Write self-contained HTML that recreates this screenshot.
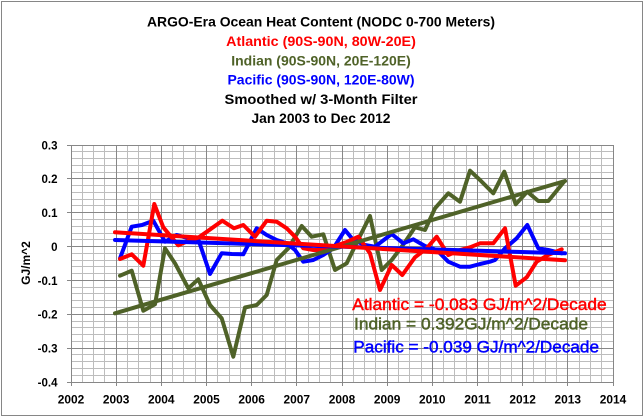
<!DOCTYPE html>
<html><head><meta charset="utf-8"><style>
html,body{margin:0;padding:0;background:#fff;}
svg{display:block;}
text{font-family:"Liberation Sans",Arial,sans-serif;}
</style></head><body>
<svg width="644" height="418" viewBox="0 0 644 418" xmlns="http://www.w3.org/2000/svg">
<rect x="0" y="0" width="644" height="418" fill="#fff"/>
<rect x="1.5" y="1.5" width="641" height="414" fill="none" stroke="#868686" stroke-width="1"/>
<!-- minor grid -->
<path fill="none" stroke="#bdbdbd" stroke-width="1" d="
M82.5,145V382 M93.5,145V382 M104.5,145V382 M127.5,145V382 M138.5,145V382 M150.5,145V382 M172.5,145V382 M183.5,145V382 M195.5,145V382 M217.5,145V382 M229.5,145V382 M240.5,145V382 M262.5,145V382 M274.5,145V382 M285.5,145V382 M308.5,145V382 M319.5,145V382 M330.5,145V382 M353.5,145V382 M364.5,145V382 M375.5,145V382 M398.5,145V382 M409.5,145V382 M421.5,145V382 M443.5,145V382 M454.5,145V382 M466.5,145V382 M488.5,145V382 M500.5,145V382 M511.5,145V382 M533.5,145V382 M545.5,145V382 M556.5,145V382 M579.5,145V382 M590.5,145V382 M601.5,145V382
M71,151.5H613 M71,158.5H613 M71,165.5H613 M71,172.5H613 M71,185.5H613 M71,192.5H613 M71,199.5H613 M71,205.5H613 M71,219.5H613 M71,226.5H613 M71,233.5H613 M71,239.5H613 M71,253.5H613 M71,260.5H613 M71,266.5H613 M71,273.5H613 M71,287.5H613 M71,293.5H613 M71,300.5H613 M71,307.5H613 M71,321.5H613 M71,327.5H613 M71,334.5H613 M71,341.5H613 M71,354.5H613 M71,361.5H613 M71,368.5H613 M71,375.5H613"/>
<!-- major grid -->
<path fill="none" stroke="#878787" stroke-width="1" d="
M71.5,145V386 M116.5,145V386 M161.5,145V386 M206.5,145V386 M251.5,145V386 M296.5,145V386 M342.5,145V386 M387.5,145V386 M432.5,145V386 M477.5,145V386 M522.5,145V386 M567.5,145V386 M613.5,145V386
M67,145.5H613 M67,178.5H613 M67,212.5H613 M67,246.5H613 M67,280.5H613 M67,314.5H613 M67,348.5H613 M67,382.5H613"/>

<!-- data series -->
<g fill="none" stroke-width="4" stroke-linejoin="round" stroke-linecap="round">
<polyline stroke="#4f6228" points="120,275.7 131.7,270.7 143.3,310.7 155,304.3 165,248.3 175,263.3 188.3,288.3 198.3,279.3 210,305 221.7,318.3 233.3,356.7 245,307.5 256.7,305 266.7,295 276.7,260 288.3,248.3 301.7,226 311.7,236.7 323.3,234.3 335,270 346.7,263.3 358,240 370,216 381.7,270 391.7,260 403,245 415,227.3 425,230 435,208.3 448.3,193.3 460,201.7 470,170.7 480,180 493.3,193.3 504.3,171.7 515.7,204.3 527.3,191.7 538.3,201 548.3,201 564,181.7"/>
<polyline stroke="#0000ff" points="120,258.3 131.7,226.7 142,225 153.3,220.7 165,241.7 176.7,235 188.3,238.3 198.3,239.3 210,274 221.7,253.3 231.7,254 243.3,254.3 256.7,228.3 266.7,235 276.7,240 286.7,243.3 295,250 303.3,261.7 313.3,260 323.3,255 333.3,248.3 345,230 353.3,240 365,245 375,246.7 391.7,234 403.3,243.3 413.3,239.3 425,246 436.7,250 448.3,261.7 460,266.7 470,266.7 480,264 490,261.7 495,260 505,248.3 516.7,238.3 527.3,225 538.3,248.3 548.3,250 561.7,253.3"/>
<polyline stroke="#ff0000" points="120,259 131.7,254.3 143.3,265.7 154.3,204 163.3,227.3 171,236.7 178.3,245.3 190,240 198.3,237.7 208.3,230.7 222.3,220.7 234,228.3 243.3,225 255,236.7 266.7,220.7 276.7,221.7 286.7,228.3 295,236.7 303.3,248.3 313.3,250 323.3,250 335,246 346.7,242 358.3,236.7 370,253.3 380,290 391.7,265 402.3,275 415,257.3 426.7,248.3 436.7,236.7 448.3,255 460,250 470,247.3 480,243.3 493.3,243.3 505,228.3 515.7,285.7 526.7,277.3 536.7,261.7 548,255 561.7,249.3"/>
<line stroke="#4f6228" x1="115" y1="313.3" x2="565" y2="181"/>
<line stroke="#0000ff" x1="115" y1="240" x2="565" y2="253.3"/>
<line stroke="#ff0000" x1="115" y1="232.3" x2="565" y2="260.3"/>
</g>

<!-- titles -->
<g font-weight="bold" font-size="14" text-anchor="middle">
<text x="321" y="26.3" fill="#000" textLength="348" lengthAdjust="spacingAndGlyphs">ARGO-Era Ocean Heat Content (NODC 0-700 Meters)</text>
<text x="321" y="45.8" fill="#ff0000" textLength="189.7" lengthAdjust="spacingAndGlyphs">Atlantic (90S-90N, 80W-20E)</text>
<text x="321" y="65.3" fill="#4f6228" textLength="179.5" lengthAdjust="spacingAndGlyphs">Indian (90S-90N, 20E-120E)</text>
<text x="321" y="84.6" fill="#0000ff" textLength="187" lengthAdjust="spacingAndGlyphs">Pacific (90S-90N, 120E-80W)</text>
<text x="321" y="103.8" fill="#000" textLength="193" lengthAdjust="spacingAndGlyphs">Smoothed w/ 3-Month Filter</text>
<text x="321" y="123" fill="#000" textLength="139" lengthAdjust="spacingAndGlyphs">Jan 2003 to Dec 2012</text>
</g>

<!-- annotations -->
<g font-size="16.5" stroke-width="0.45">
<text x="352.3" y="310" fill="#ff0000" stroke="#ff0000" textLength="254.4" lengthAdjust="spacingAndGlyphs">Atlantic = -0.083 GJ/m^2/Decade</text>
<text x="354" y="329.5" fill="#4f6228" stroke="#4f6228" textLength="234" lengthAdjust="spacingAndGlyphs">Indian = 0.392GJ/m^2/Decade</text>
<text x="353.3" y="352.7" fill="#0000ff" stroke="#0000ff" textLength="245.7" lengthAdjust="spacingAndGlyphs">Pacific = -0.039 GJ/m^2/Decade</text>
</g>

<!-- y tick labels -->
<g font-weight="bold" font-size="11.5" text-anchor="end" fill="#000">
<text x="57.5" y="149.5">0.3</text>
<text x="57.5" y="183">0.2</text>
<text x="57.5" y="217">0.1</text>
<text x="57.5" y="250.8">0</text>
<text x="57.5" y="284.8">-0.1</text>
<text x="57.5" y="318.6">-0.2</text>
<text x="57.5" y="352.5">-0.3</text>
<text x="57.5" y="386.3">-0.4</text>
</g>
<!-- x tick labels -->
<g font-weight="bold" font-size="11.5" text-anchor="middle" fill="#000">
<text x="71" y="403.3" textLength="26.5" lengthAdjust="spacingAndGlyphs">2002</text>
<text x="116.2" y="403.3" textLength="26.5" lengthAdjust="spacingAndGlyphs">2003</text>
<text x="161.3" y="403.3" textLength="26.5" lengthAdjust="spacingAndGlyphs">2004</text>
<text x="206.5" y="403.3" textLength="26.5" lengthAdjust="spacingAndGlyphs">2005</text>
<text x="251.7" y="403.3" textLength="26.5" lengthAdjust="spacingAndGlyphs">2006</text>
<text x="296.8" y="403.3" textLength="26.5" lengthAdjust="spacingAndGlyphs">2007</text>
<text x="342" y="403.3" textLength="26.5" lengthAdjust="spacingAndGlyphs">2008</text>
<text x="387.2" y="403.3" textLength="26.5" lengthAdjust="spacingAndGlyphs">2009</text>
<text x="432.3" y="403.3" textLength="26.5" lengthAdjust="spacingAndGlyphs">2010</text>
<text x="477.5" y="403.3" textLength="26.5" lengthAdjust="spacingAndGlyphs">2011</text>
<text x="522.7" y="403.3" textLength="26.5" lengthAdjust="spacingAndGlyphs">2012</text>
<text x="567.8" y="403.3" textLength="26.5" lengthAdjust="spacingAndGlyphs">2013</text>
<text x="613" y="403.3" textLength="26.5" lengthAdjust="spacingAndGlyphs">2014</text>
</g>
<!-- y axis title -->
<text transform="translate(30,263) rotate(-90)" text-anchor="middle" font-weight="bold" font-size="12" fill="#000">GJ/m^2</text>
</svg>
</body></html>
